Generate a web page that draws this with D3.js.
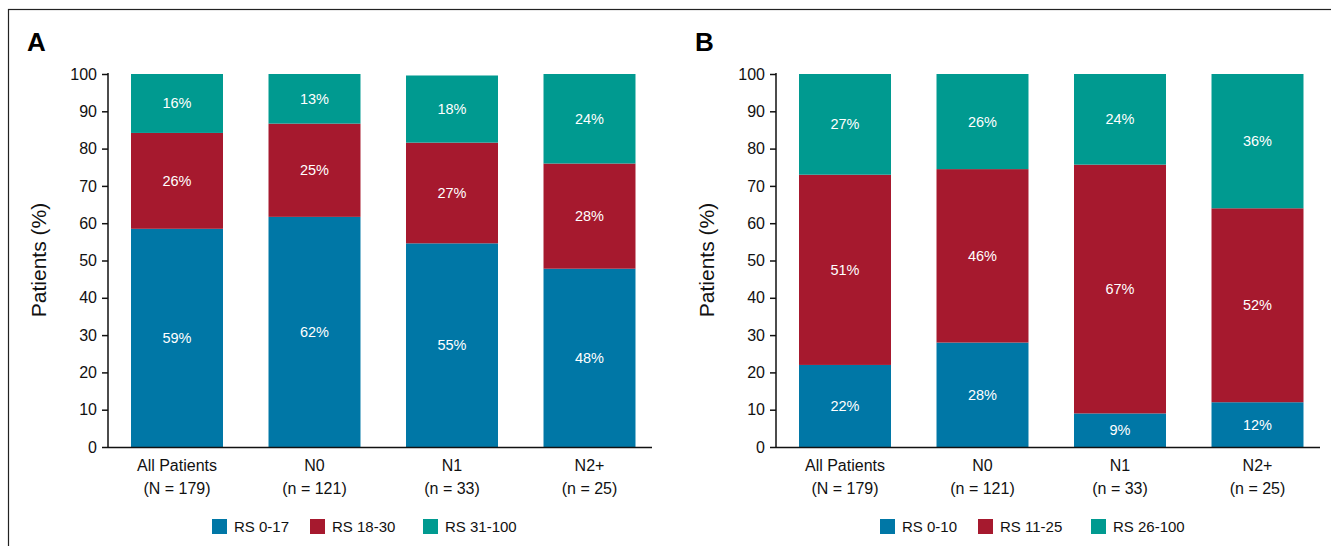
<!DOCTYPE html><html><head><meta charset="utf-8"><script src="https://cdn.jsdelivr.net/npm/d3@7"></script>
<style>body{margin:0;background:#fff}text{font-family:"Liberation Sans",Arial,sans-serif}</style></head><body>
<svg id="c" width="1331" height="546"></svg>
<script>
const categories=["All Patients","N0","N1","N2+"];
const subLabels=["(N = 179)","(n = 121)","(n = 33)","(n = 25)"];
const yTicks=[0,10,20,30,40,50,60,70,80,90,100];
const aNames=["RS 0-17","RS 18-30","RS 31-100"];
const aLow=[58.5,61.7,54.6,47.8];
const aMid=[25.7,25.0,27.0,28.2];
const aHigh=[15.8,13.3,18.0,24.0];
const aLabels=[["59%","62%","55%","48%"],["26%","25%","27%","28%"],["16%","13%","18%","24%"]];
const bNames=["RS 0-10","RS 11-25","RS 26-100"];
const bLow=[22,28,9,12];
const bMid=[51,46.5,66.7,52];
const bHigh=[27,25.5,24.3,36];
const bLabels=[["22%","28%","9%","12%"],["51%","46%","67%","52%"],["27%","26%","24%","36%"]];
const colors=["#0077a6","#a6192e","#009a90"];
const svg=d3.select("#c");
svg.append("rect").attr("x",8.5).attr("y",9.5).attr("width",1340).attr("height",560).attr("fill","none").attr("stroke","#222").attr("stroke-width",1.2);
function panel(x0,letter,series,labels,names){
  const axX=x0+108, right=x0+652;
  const y=d3.scaleLinear().domain([0,100]).range([447,74]);
  const x=d3.scaleBand().domain(categories).range([x0+108.25,x0+658.25]).paddingInner(0.331).paddingOuter(0.1655);
  const g=svg.append("g");
  g.append("text").attr("x",x0+27).attr("y",51).text(letter).attr("font-size",26).attr("font-weight","bold");
  let cum=[0,0,0,0];
  series.forEach((s,si)=>{
    s.forEach((v,i)=>{
      const b=cum[i],t=b+v;
      g.append("rect").attr("x",x(categories[i])).attr("width",x.bandwidth()).attr("y",y(t)).attr("height",y(b)-y(t)).attr("fill",colors[si]);
      g.append("text").attr("x",x(categories[i])+x.bandwidth()/2).attr("y",y((b+t)/2)+5).attr("text-anchor","middle").attr("fill","#fff").attr("font-size",14.5).text(labels[si][i]);
      cum[i]=t;
    });
  });
  const ax=g.append("g").attr("transform",`translate(${axX},0)`).call(d3.axisLeft(y).tickValues(yTicks).tickSize(6).tickPadding(5));
  ax.select(".domain").attr("d",`M-0,${y(100)-1}V${y(0)}`).attr("stroke","#111").attr("stroke-width",1.5);
  ax.selectAll("line").attr("stroke","#111").attr("stroke-width",1.5);
  ax.selectAll("text").attr("font-size",16).attr("fill","#111").style("font-family","Liberation Sans, Arial");
  g.append("line").attr("x1",axX).attr("x2",right).attr("y1",447.5).attr("y2",447.5).attr("stroke","#111").attr("stroke-width",1.5);
  categories.forEach((c,i)=>{
    const cx=x(c)+x.bandwidth()/2;
    g.append("text").attr("x",cx).attr("y",471).attr("text-anchor","middle").attr("font-size",16).attr("fill","#111").text(c);
    g.append("text").attr("x",cx).attr("y",494).attr("text-anchor","middle").attr("font-size",16).attr("fill","#111").text(subLabels[i]);
  });
  g.append("text").attr("transform",`translate(${x0+46},260) rotate(-90)`).attr("text-anchor","middle").attr("font-size",21).attr("fill","#111").text("Patients (%)");
  const lx=[x0+212,x0+310,x0+423];
  names.forEach((n,i)=>{
    g.append("rect").attr("x",lx[i]).attr("y",519).attr("width",15).attr("height",15).attr("fill",colors[i]);
    g.append("text").attr("x",lx[i]+22).attr("y",532).attr("font-size",15).attr("fill","#111").text(n);
  });
}
panel(0,"A",[aLow,aMid,aHigh],aLabels,aNames);
panel(668,"B",[bLow,bMid,bHigh],bLabels,bNames);
</script></body></html>
